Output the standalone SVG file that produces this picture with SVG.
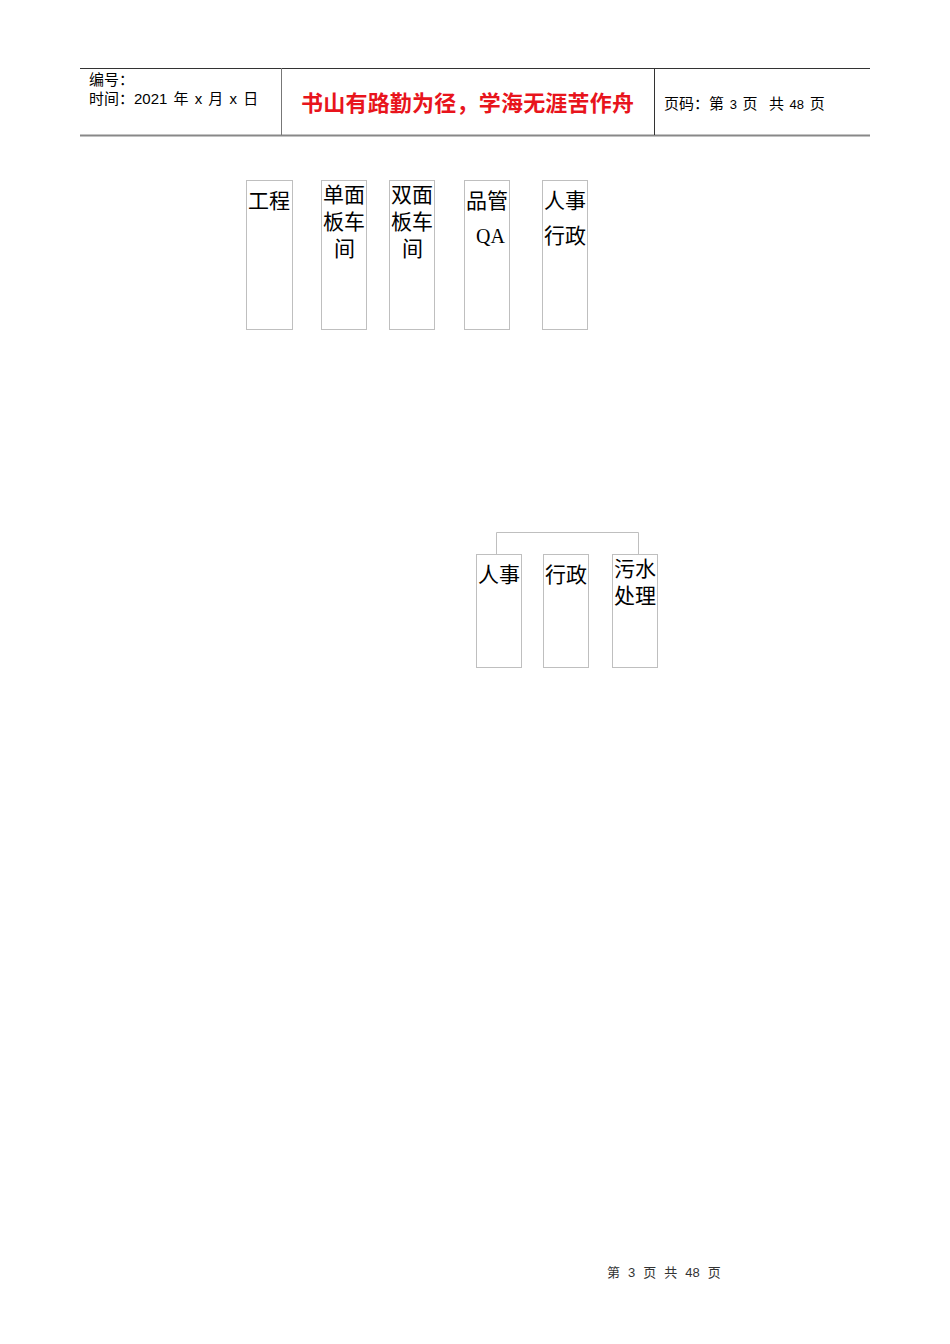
<svg xmlns="http://www.w3.org/2000/svg" width="950" height="1344" viewBox="0 0 950 1344">
<style>
.box{fill:#fff;stroke:#bfbfbf;stroke-width:1}
.lbl{font-family:"Noto Sans CJK SC","Liberation Serif",serif;font-size:21px;fill:#000}
.hd{font-family:"Liberation Sans","Noto Sans CJK SC",sans-serif;font-size:15px;fill:#000}
.conn{fill:none;stroke:#bfbfbf;stroke-width:1}
</style>
<rect width="950" height="1344" fill="#fff"/>
<g id="header">
<line x1="80" y1="68.5" x2="870" y2="68.5" stroke="#333" stroke-width="1"/>
<line x1="80" y1="135.5" x2="870" y2="135.5" stroke="#888" stroke-width="2"/>
<line x1="281.5" y1="68" x2="281.5" y2="135" stroke="#777" stroke-width="1"/>
<line x1="654.5" y1="68" x2="654.5" y2="135" stroke="#333" stroke-width="1"/>
<text class="hd" x="89" y="85">编号：</text>
<text class="hd" x="89" y="104" word-spacing="2">时间：2021 年 x 月 x 日</text>
<text x="301" y="111" font-family="Liberation Sans,'Noto Sans CJK SC',sans-serif" font-size="22" font-weight="bold" fill="#e8141c" textLength="333">书山有路勤为径，学海无涯苦作舟</text>
<text class="hd" x="664" y="109" xml:space="preserve" word-spacing="1.5">页码：第 <tspan font-size="13">3</tspan> 页  共 <tspan font-size="13">48</tspan> 页</text>
</g>
<g id="connectors">
<polyline class="conn" points="496.5,554 496.5,532.5 638.5,532.5 638.5,554"/>
</g>
<g id="n1"><rect class="box" x="246.5" y="180.5" width="46" height="149"/><text class="lbl" x="248" y="208">工程</text></g>
<g id="n2"><rect class="box" x="321.5" y="180.5" width="45" height="149"/><text class="lbl" x="323" y="202">单面<tspan x="323" dy="27">板车</tspan><tspan x="334" dy="27">间</tspan></text></g>
<g id="n3"><rect class="box" x="389.5" y="180.5" width="45" height="149"/><text class="lbl" x="391" y="202">双面<tspan x="391" dy="27">板车</tspan><tspan x="402" dy="27">间</tspan></text></g>
<g id="n4"><rect class="box" x="464.5" y="180.5" width="45" height="149"/><text class="lbl" x="466" y="208">品管<tspan x="476" dy="35" font-family="Liberation Serif,serif" font-size="20">QA</tspan></text></g>
<g id="n5"><rect class="box" x="542.5" y="180.5" width="45" height="149"/><text class="lbl" x="544" y="208">人事<tspan x="544" dy="35">行政</tspan></text></g>
<g id="n6"><rect class="box" x="476.5" y="554.5" width="45" height="113"/><text class="lbl" x="478" y="582">人事</text></g>
<g id="n7"><rect class="box" x="543.5" y="554.5" width="45" height="113"/><text class="lbl" x="545" y="582">行政</text></g>
<g id="n8"><rect class="box" x="612.5" y="554.5" width="45" height="113"/><text class="lbl" x="614" y="576">污水<tspan x="614" dy="27">处理</tspan></text></g>
<text x="607" y="1277" font-family="Liberation Sans,'Noto Sans CJK SC',sans-serif" font-size="13" fill="#333" word-spacing="4.4">第 3 页 共 48 页</text>
</svg>
